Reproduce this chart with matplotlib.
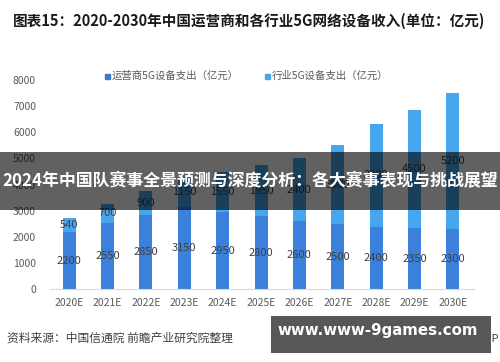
import matplotlib
matplotlib.use("Agg")
import matplotlib.pyplot as plt
from matplotlib.patches import Rectangle

plt.rcParams['font.family'] = ['Noto Sans CJK SC', 'DejaVu Sans']

years = ["2020E", "2021E", "2022E", "2023E", "2024E", "2025E",
         "2026E", "2027E", "2028E", "2029E", "2030E"]
operator = [2200, 2550, 2850, 3150, 2950, 2800, 2600, 2500, 2400, 2350, 2300]
industry = [540, 700, 900, 1150, 1550, 1950, 2400, 3000, 3900, 4500, 5200]
yticks = [0, 1000, 2000, 3000, 4000, 5000, 6000, 7000, 8000]

c_op = "#3b80db"
c_ind = "#46a7ef"
gray_txt = "#595959"

fig = plt.figure(figsize=(5.0, 3.62), dpi=100)
ax = fig.add_axes([0.1, 0.2008, 0.848, 0.5782])

x = list(range(len(years)))
b1 = ax.bar(x, operator, width=0.34, color=c_op, zorder=2)
b2 = ax.bar(x, industry, width=0.34, bottom=operator, color=c_ind, zorder=2)
ax.bar_label(b1, labels=[str(v) for v in operator], label_type='center',
             fontsize=8, color="#404040")
ax.bar_label(b2, labels=[str(v) for v in industry], label_type='center',
             fontsize=8, color="#404040")

ax.set_xlim(-0.5, 10.55)
ax.set_ylim(0, 8000)
ax.set_yticks(yticks)
ax.set_yticklabels([str(v) for v in yticks], fontsize=7.5, color=gray_txt)
ax.set_xticks(x)
ax.set_xticklabels(years, fontsize=7.5, color=gray_txt)
ax.tick_params(axis='both', length=0)
ax.tick_params(axis='y', pad=10)
ax.tick_params(axis='x', pad=6)
for s in ["top", "right", "left"]:
    ax.spines[s].set_visible(False)
ax.spines["bottom"].set_color("#d9d9d9")

# Title
fig.text(0.498, 0.942, "图表15：2020-2030年中国运营商和各行业5G网络设备收入(单位：亿元)",
         ha='center', va='center', fontsize=10.5, fontweight='bold', color="#1a1a1a")

# Legend
fig.patches.append(Rectangle((105 / 500, 1 - 79 / 362), 5 / 500, 5 / 362,
                             transform=fig.transFigure, color="#3a78d2", figure=fig))
fig.text(112 / 500, 1 - 76 / 362, "运营商5G设备支出（亿元）", ha='left', va='center',
         fontsize=7.5, color=gray_txt)
fig.patches.append(Rectangle((265 / 500, 1 - 79 / 362), 5 / 500, 5 / 362,
                             transform=fig.transFigure, color=c_ind, figure=fig))
fig.text(272 / 500, 1 - 76 / 362, "行业5G设备支出（亿元）", ha='left', va='center',
         fontsize=7.5, color=gray_txt)

# Source
fig.text(7 / 500, 1 - 338 / 362, "资料来源：中国信通院 前瞻产业研究院整理", ha='left', va='center',
         fontsize=8.5, color="#404040")
fig.text(499 / 500, 1 - 338 / 362, "前瞻经济学人APP", ha='right', va='center',
         fontsize=8, color="#404040")

# Banner overlay
fig.patches.append(Rectangle((0, 1 - 210 / 362), 1, 58 / 362, transform=fig.transFigure,
                             facecolor="black", alpha=0.62, zorder=5, figure=fig))
t = fig.text(0.5, 1 - 181 / 362, "2024年中国队赛事全景预测与深度分析：各大赛事表现与挑战展望",
             ha='center', va='center', fontsize=12.2, fontweight='bold', color="white")
t.set_zorder(6)

# Bottom badge overlay
fig.patches.append(Rectangle((271 / 500, 1 - 353 / 362), 220 / 500, 37 / 362,
                             transform=fig.transFigure, facecolor="#575757", zorder=5, figure=fig))
t2 = fig.text(378 / 500, 1 - 331 / 362, "www.www-9games.com", ha='center', va='center',
              fontsize=10.8, fontweight='bold', color="white", family="DejaVu Sans")
t2.set_zorder(6)

fig.savefig("out.png", dpi=100)
